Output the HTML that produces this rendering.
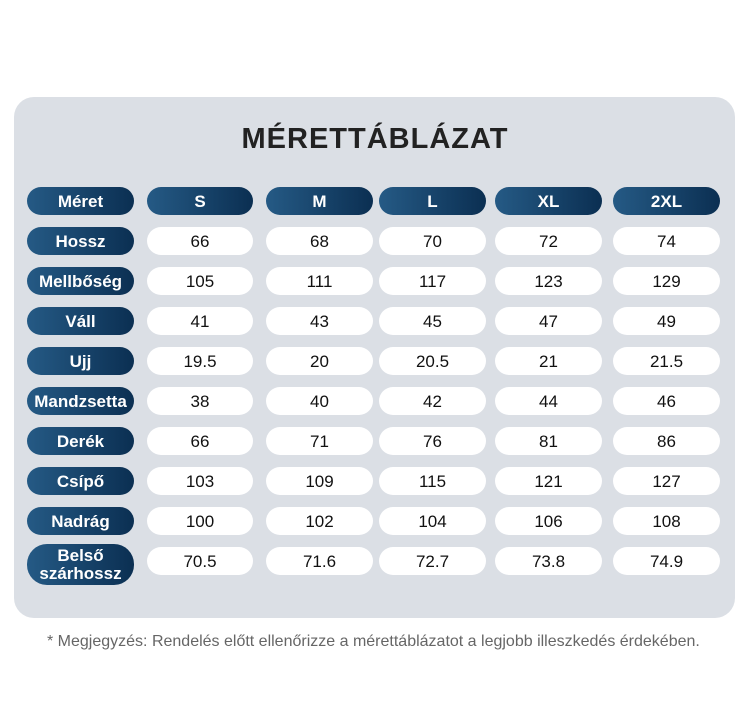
<!DOCTYPE html>
<html><head><meta charset="utf-8"><style>
body{margin:0;width:750px;height:707px;background:#fff;position:relative;font-family:"Liberation Sans",sans-serif;overflow:hidden}
.panel{position:absolute;left:14px;top:97px;width:721px;height:521px;background:#dbdfe5;border-radius:20px}
.title{position:absolute;left:0;width:750px;top:123px;text-align:center;font-size:29px;font-weight:bold;color:#222;letter-spacing:1px}
.p{position:absolute;height:28px;border-radius:14px;display:flex;align-items:center;justify-content:center;font-size:17px;line-height:17px}
.d{background:linear-gradient(90deg,#255a85,#0b2f52);color:#fff;font-weight:bold}
.w{background:#fff;color:#111}
.note{position:absolute;left:47px;top:633px;font-size:16px;color:#666;white-space:nowrap}
</style></head><body>
<div class="panel"></div>
<div class="title">MÉRETTÁBLÁZAT</div>
<div id="g"></div>
<div class="note">* Megjegyzés: Rendelés előtt ellenőrizze a mérettáblázatot a legjobb illeszkedés érdekében.</div>
<script>
var cols=[[27,107],[147,106],[266,107],[379,107],[495,107],[613,107]];
var rows=[["Méret","S","M","L","XL","2XL"],["Hossz",66,68,70,72,74],["Mellbőség",105,111,117,123,129],["Váll",41,43,45,47,49],["Ujj","19.5",20,"20.5",21,"21.5"],["Mandzsetta",38,40,42,44,46],["Derék",66,71,76,81,86],["Csípő",103,109,115,121,127],["Nadrág",100,102,104,106,108],["Belső<br>szárhossz","70.5","71.6","72.7","73.8","74.9"]];
var h="";
rows.forEach(function(r,i){var y=187+i*40;r.forEach(function(v,j){var c=cols[j];var cls=(i==0||j==0)?"d":"w";var st="left:"+c[0]+"px;top:"+y+"px;width:"+c[1]+"px;";if(i==9&&j==0){st="left:27px;top:544px;width:107px;height:41px;border-radius:20px;line-height:18px;text-align:center;";}h+='<div class="p '+cls+'" style="'+st+'">'+v+'</div>';});});
document.getElementById("g").innerHTML=h;
</script>
</body></html>
